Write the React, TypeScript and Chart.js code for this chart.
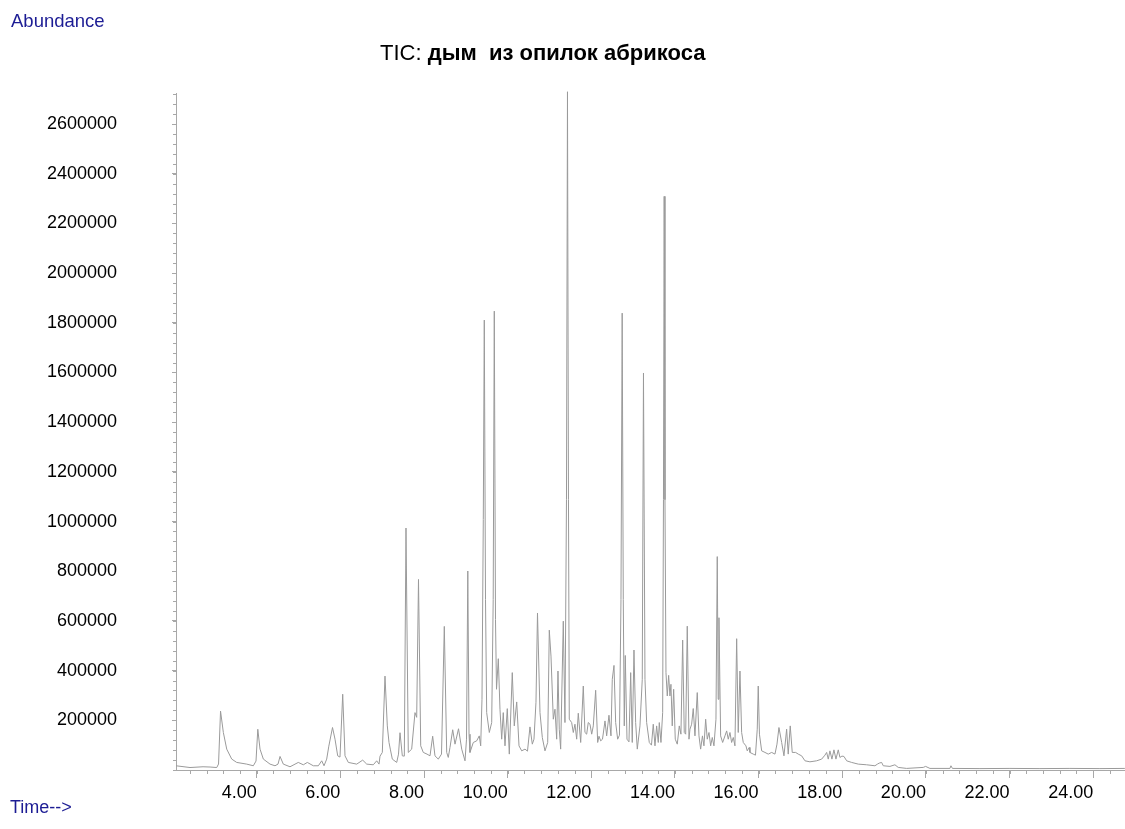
import React, { useEffect, useRef } from 'react';
import { Chart, registerables } from 'chart.js';

Chart.register(...registerables);

// ---- data (retention time in minutes, abundance) ----
const retentionTimes: number[] = [
  2.07, 2.405, 2.716, 2.884, 3.044, 3.087, 3.135, 3.202, 3.283, 3.402, 3.522, 3.761, 3.919, 3.983,
  4.026, 4.079, 4.158, 4.318, 4.437, 4.509, 4.557, 4.636, 4.796, 4.994, 5.114, 5.21, 5.353, 5.473,
  5.554, 5.609, 5.673, 5.724, 5.812, 5.872, 5.936, 5.991, 6.056, 6.111, 6.19, 6.391, 6.534, 6.63,
  6.787, 6.869, 6.924, 6.948, 7.003, 7.067, 7.122, 7.163, 7.194, 7.242, 7.347, 7.39, 7.426, 7.481,
  7.529, 7.569, 7.624, 7.705, 7.784, 7.825, 7.868, 7.921, 7.983, 8.072, 8.143, 8.207, 8.262, 8.341,
  8.418, 8.485, 8.542, 8.58, 8.621, 8.686, 8.741, 8.825, 8.901, 8.98, 9.016, 9.047, 9.076, 9.099,
  9.178, 9.259, 9.321, 9.355, 9.386, 9.417, 9.441, 9.47, 9.498, 9.561, 9.618, 9.654, 9.68, 9.709,
  9.733, 9.776, 9.816, 9.857, 9.895, 9.936, 9.991, 10.039, 10.11, 10.158, 10.216, 10.271, 10.335,
  10.414, 10.474, 10.533, 10.589, 10.629, 10.677, 10.713, 10.773, 10.828, 10.892, 10.957, 10.995,
  11.036, 11.091, 11.131, 11.172, 11.203, 11.234, 11.267, 11.33, 11.37, 11.406, 11.43, 11.454,
  11.473, 11.53, 11.569, 11.609, 11.65, 11.688, 11.746, 11.808, 11.848, 11.889, 11.927, 11.968,
  12.009, 12.047, 12.104, 12.152, 12.183, 12.224, 12.267, 12.327, 12.367, 12.422, 12.47, 12.501,
  12.542, 12.582, 12.63, 12.673, 12.709, 12.738, 12.764, 12.788, 12.812, 12.853, 12.9, 12.941,
  12.979, 13.02, 13.06, 13.099, 13.163, 13.218, 13.247, 13.283, 13.323, 13.386, 13.438, 13.481,
  13.522, 13.562, 13.601, 13.625, 13.665, 13.706, 13.725, 13.742, 13.761, 13.785, 13.816, 13.849,
  13.88, 13.904, 13.935, 13.969, 14.007, 14.055, 14.103, 14.143, 14.184, 14.222, 14.256, 14.294,
  14.335, 14.359, 14.399, 14.437, 14.478, 14.533, 14.574, 14.614, 14.657, 14.693, 14.734, 14.772,
  14.813, 14.853, 14.892, 14.932, 14.98, 15.011, 15.033, 15.052, 15.092, 15.14, 15.195, 15.236,
  15.274, 15.315, 15.355, 15.394, 15.434, 15.475, 15.513, 15.554, 15.594, 15.633, 15.697, 15.728,
  15.776, 15.793, 15.872, 15.925, 15.967, 15.991, 16.02, 16.073, 16.152, 16.23, 16.312, 16.391,
  16.439, 16.486, 16.551, 16.606, 16.67, 16.708, 16.756, 16.804, 16.885, 16.948, 17.029, 17.108,
  17.227, 17.387, 17.507, 17.586, 17.627, 17.665, 17.705, 17.753, 17.801, 17.849, 17.904, 17.944,
  17.992, 18.04, 18.105, 18.224, 18.382, 18.583, 18.781, 18.841, 18.884, 18.941, 18.98, 19.14,
  19.259, 19.338, 19.539, 19.936, 19.993, 20.096, 20.574, 20.598, 20.634, 21.292, 22.009, 22.726,
  23.443, 24.16, 24.757,
];

const abundances: number[] = [
  17000, 10000, 13000, 12000, 10000, 24000, 237000, 151000, 84000, 44000, 30500, 23700, 17000, 36000,
  164000, 84000, 44000, 23700, 17000, 23700, 54600, 23700, 13000, 30500, 21000, 30500, 17000, 17000,
  37000, 17000, 43800, 96000, 171000, 124000, 57000, 52000, 305000, 57000, 30500, 23700, 39800, 23700,
  21000, 37000, 23700, 55800, 70700, 378000, 177500, 110800, 84000, 43800, 30500, 63900, 150000, 57000,
  55800, 974000, 70700, 84000, 231000, 212000, 767000, 97200, 70700, 63900, 57000, 136000, 57000, 43800,
  63900, 578000, 70700, 50600, 90800, 162000, 104000, 166000, 84000, 37000, 124000, 801000, 144000, 70700,
  110800, 117300, 137300, 97200, 284700, 1008000, 1811000, 686000, 231000, 151000, 191000, 686000, 1847000, 606000,
  325000, 448000, 244600, 124000, 231000, 97200, 247000, 63900, 392000, 177500, 274000, 97200, 77100,
  84000, 75900, 173500, 104000, 124000, 272700, 632000, 231000, 131000, 77100, 110800, 563000,
  458600, 204400, 244600, 124000, 398400, 164300, 84000, 599000, 191000, 1088000, 2730000, 1088000,
  204400, 191000, 151000, 184300, 124000, 228500, 110800, 338000, 151000, 144200, 191000, 184300,
  144200, 177500, 321000, 110800, 136000, 117300, 124000, 197600, 137300, 220500, 137300, 365000,
  421000, 191000, 124000, 140200, 686000, 1839000, 686000, 177500, 461000, 124000, 113300, 392000,
  110800, 483000, 191000, 84000, 177500, 365000, 1598000, 365000, 191000, 110800, 100000, 184300,
  97200, 177500, 110800, 191000, 110800, 231000, 1088000, 2309000, 1088000, 392000, 298000, 381000,
  298000, 345000, 177500, 325000, 124000, 104000, 177500, 144200, 523000, 151000, 144200, 579000,
  124000, 164300, 184300, 247400, 137300, 311600, 137300, 84000, 137300, 97200, 204400, 124000,
  151000, 97200, 131000, 97200, 204400, 859000, 284700, 613000, 137300, 110800, 137300, 157400,
  124000, 151000, 110800, 131000, 97200, 528500, 151000, 398400, 151000, 110800, 97200, 77100,
  90800, 70700, 63900, 59800, 164300, 338000, 144200, 77100, 70700, 63900, 70700, 63900,
  104000, 171000, 110800, 57000, 164300, 63900, 177500, 70700, 70700, 63900, 57000, 37000,
  32900, 37000, 43800, 59800, 70700, 43800, 77100, 43800, 81100, 43800, 81100, 50600,
  55800, 54600, 37000, 30500, 23700, 21000, 17000, 23700, 27700, 30500, 17000, 14500,
  21000, 10400, 6400, 10400, 14500, 6400, 6400, 17000, 6400, 5600, 6400, 5600,
  6400, 5600, 6400,
];

// ---- axes ----
const X_MIN = 2.07;
const X_MAX = 24.76;
const X_MINOR_STEP = 0.4;
const X_TICK_VALUES = [4, 6, 8, 10, 12, 14, 16, 18, 20, 22, 24];
const Y_MIN = 0;
const Y_MAX = 2725000;
const Y_MINOR_STEP = 40000;
const Y_TICK_VALUES = [
  200000, 400000, 600000, 800000, 1000000, 1200000, 1400000, 1600000, 1800000, 2000000, 2200000,
  2400000, 2600000,
];

// ---- texts ----
const TITLE_PREFIX = 'TIC: ';
const TITLE_SAMPLE = 'дым  из опилок абрикоса';
const Y_AXIS_TEXT = 'Abundance';
const X_AXIS_TEXT = 'Time-->';

const FONT = '"Liberation Sans", Arial, sans-serif';
const BLUE = '#1c1c94';
const AXIS_GREY = '#a8a8a8';
const LINE_GREY = '#9a9a9a';

const minorTicks = {
  id: 'minorTicks',
  afterDraw(chart: any) {
    const { ctx } = chart;
    const xs = chart.scales.x;
    const ys = chart.scales.y;
    ctx.save();
    ctx.strokeStyle = AXIS_GREY;
    ctx.lineWidth = 1;
    ctx.beginPath();
    const xStart = Math.ceil(xs.min / X_MINOR_STEP);
    for (let i = xStart; i * X_MINOR_STEP <= xs.max + 1e-9; i++) {
      const px = Math.round(xs.getPixelForValue(i * X_MINOR_STEP)) + 0.5;
      ctx.moveTo(px, ys.bottom);
      ctx.lineTo(px, ys.bottom + 4);
    }
    const yStart = Math.ceil(ys.min / Y_MINOR_STEP);
    for (let i = yStart; i * Y_MINOR_STEP <= ys.max; i++) {
      const py = Math.round(ys.getPixelForValue(i * Y_MINOR_STEP)) + 0.5;
      ctx.moveTo(xs.left, py);
      ctx.lineTo(xs.left - 3, py);
    }
    ctx.stroke();
    ctx.restore();
  },
};

export default function App() {
  const canvasRef = useRef<HTMLCanvasElement | null>(null);

  useEffect(() => {
    const canvas = canvasRef.current;
    if (!canvas) return;
    const points = retentionTimes.map((t, i) => ({ x: t, y: abundances[i] }));
    const chart = new Chart(canvas, {
      type: 'line',
      data: {
        datasets: [
          {
            data: points,
            borderColor: LINE_GREY,
            borderWidth: 1,
            pointRadius: 0,
            tension: 0,
            fill: false,
            clip: 4,
          } as any,
        ],
      },
      options: {
        animation: false,
        responsive: false,
        maintainAspectRatio: false,
        layout: { padding: { top: 93, left: 0, right: 0, bottom: 0 } },
        plugins: {
          legend: { display: false },
          tooltip: { enabled: false },
          title: { display: false },
        },
        scales: {
          x: {
            type: 'linear',
            min: X_MIN,
            max: X_MAX,
            afterFit: (s: any) => {
              s.height = 59;
              s.paddingLeft = 0;
              s.paddingRight = 0;
            },
            afterBuildTicks: (s: any) => {
              s.ticks = X_TICK_VALUES.map((v) => ({ value: v }));
            },
            grid: {
              drawOnChartArea: false,
              drawTicks: true,
              tickLength: 8,
              color: AXIS_GREY,
              lineWidth: 1,
            },
            border: { display: true, color: AXIS_GREY, width: 1 },
            ticks: {
              autoSkip: false,
              maxRotation: 0,
              minRotation: 0,
              align: 'end',
              padding: 4,
              color: '#000',
              font: { family: FONT, size: 18 },
              callback: (v: any) => Number(v).toFixed(2),
            },
          },
          y: {
            type: 'linear',
            min: Y_MIN,
            max: Y_MAX,
            afterFit: (s: any) => {
              s.width = 176;
              s.paddingTop = 0;
              s.paddingBottom = 0;
            },
            afterBuildTicks: (s: any) => {
              s.ticks = Y_TICK_VALUES.map((v) => ({ value: v }));
            },
            grid: {
              drawOnChartArea: false,
              drawTicks: true,
              tickLength: 4,
              color: AXIS_GREY,
              lineWidth: 1,
            },
            border: { display: true, color: AXIS_GREY, width: 1 },
            ticks: {
              autoSkip: false,
              padding: 55,
              color: '#000',
              font: { family: FONT, size: 18 },
              callback: (v: any) => String(v),
            },
          },
        },
      } as any,
      plugins: [minorTicks],
    });
    return () => chart.destroy();
  }, []);

  return (
    <div
      style={{
        position: 'absolute',
        left: 0,
        top: 0,
        width: 1125,
        height: 829,
        background: '#fff',
        overflow: 'hidden',
      }}
    >
      <canvas
        ref={canvasRef}
        width={1125}
        height={829}
        style={{ position: 'absolute', left: 0, top: 0, width: 1125, height: 829 }}
      />
      <div
        style={{
          position: 'absolute',
          left: 11,
          top: 12,
          fontFamily: FONT,
          fontSize: 18.5,
          lineHeight: '18px',
          color: BLUE,
          whiteSpace: 'pre',
        }}
      >
        {Y_AXIS_TEXT}
      </div>
      <div
        style={{
          position: 'absolute',
          left: 380,
          top: 42,
          fontFamily: FONT,
          fontSize: 22,
          lineHeight: '22px',
          color: '#000',
          whiteSpace: 'pre',
        }}
      >
        {TITLE_PREFIX}
        <b>{TITLE_SAMPLE}</b>
      </div>
      <div
        style={{
          position: 'absolute',
          left: 10,
          top: 798,
          fontFamily: FONT,
          fontSize: 18,
          lineHeight: '18px',
          color: BLUE,
          whiteSpace: 'pre',
        }}
      >
        {X_AXIS_TEXT}
      </div>
    </div>
  );
}
